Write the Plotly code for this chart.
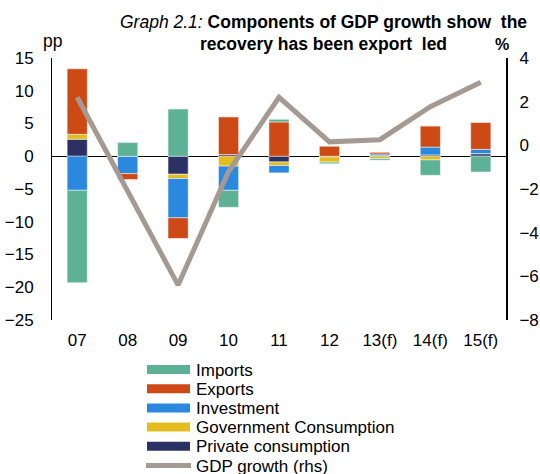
import plotly.graph_objects as go

categories = ["07", "08", "09", "10", "11", "12", "13(f)", "14(f)", "15(f)"]
private_consumption = [2.6, 0.0, -2.75, 0.26, -0.87, -0.1, 0.1, 0.2, 0.4]
government_consumption = [0.75, 0.0, -0.65, -1.5, -0.55, -0.8, -0.35, -0.56, 0.0]
investment = [-5.2, -2.65, -6.0, -3.7, -1.12, 0.0, 0.25, 1.2, 0.65]
exports = [10.0, -0.9, -3.15, 5.74, 5.24, 1.53, 0.25, 3.2, 4.1]
imports = [-14.1, 2.1, 7.2, -2.6, 0.4, -0.25, -0.25, -2.35, -2.4]
gdp_growth = [2.2, -2.1, -6.4, -1.2, 2.2, 0.16, 0.26, 1.77, 2.89]

FONT = "Liberation Sans, Arial, sans-serif"
col_imports = "#5DB195"
col_exports = "#CD4915"
col_invest = "#2A88DE"
col_gov = "#E3BD1F"
col_priv = "#2C3165"
col_gdp = "#A59A92"

W, H = 540, 474
ML, MR, MT, MB = 52, 34, 58, 154
PW, PH = W - ML - MR, H - MT - MB


def px_x(px):
    return (px - ML) / PW


def px_y(py):
    return (H - MB - py) / PH


fig = go.Figure()
edge = dict(color="rgba(255,255,255,0.5)", width=1)
series = [
    ("Private consumption", private_consumption, col_priv),
    ("Government Consumption", government_consumption, col_gov),
    ("Investment", investment, col_invest),
    ("Exports", exports, col_exports),
    ("Imports", imports, col_imports),
]
for name, vals, col in series:
    fig.add_trace(go.Bar(x=categories, y=vals, name=name, marker=dict(color=col, line=edge)))

fig.add_trace(go.Scatter(x=categories, y=gdp_growth, mode="lines", name="GDP growth (rhs)",
                         line=dict(color=col_gdp, width=5), yaxis="y2"))

# manual legend (order as in the reference)
legend_items = [("Imports", col_imports, "bar"), ("Exports", col_exports, "bar"),
                ("Investment", col_invest, "bar"), ("Government Consumption", col_gov, "bar"),
                ("Private consumption", col_priv, "bar"), ("GDP growth (rhs)", col_gdp, "line")]
shapes = []
anns = []
for i, (lab, col, kind) in enumerate(legend_items):
    yc = 369.5 + i * 19.2
    if kind == "bar":
        shapes.append(dict(type="rect", xref="paper", yref="paper",
                           x0=px_x(147), x1=px_x(190), y0=px_y(yc - 4.5), y1=px_y(yc + 4.5),
                           fillcolor=col, line=dict(width=0)))
    else:
        shapes.append(dict(type="line", xref="paper", yref="paper",
                           x0=px_x(146), x1=px_x(191), y0=px_y(yc), y1=px_y(yc),
                           line=dict(color=col, width=5)))
    anns.append(dict(text=lab, x=px_x(194), y=px_y(yc + 0.5), xref="paper", yref="paper",
                     xanchor="left", yanchor="middle", showarrow=False,
                     font=dict(size=17, family=FONT)))

anns += [
    dict(text="<i>Graph 2.1:</i> <b>Components of GDP growth show  the</b>", x=px_x(323),
         y=px_y(22), font=dict(size=17.5)),
    dict(text="<b>recovery has been export  led</b>", x=px_x(323), y=px_y(44),
         font=dict(size=17.5)),
    dict(text="pp", x=px_x(52), y=px_y(41), font=dict(size=17.5)),
    dict(text="<b>%</b>", x=px_x(502), y=px_y(45), font=dict(size=16)),
]
for a in anns[-4:]:
    a.update(xref="paper", yref="paper", xanchor="center", yanchor="middle", showarrow=False)

fig.update_layout(
    width=W, height=H,
    margin=dict(l=ML, r=MR, t=MT, b=MB, autoexpand=False),
    paper_bgcolor="white", plot_bgcolor="white",
    barmode="relative", bargap=0.6,
    font=dict(family=FONT, size=17, color="black"),
    showlegend=False,
    xaxis=dict(type="category", showline=False, ticks="", showgrid=False,
               tickfont=dict(size=17), ticklabelstandoff=8),
    yaxis=dict(range=[-25, 15], dtick=5, showgrid=False, showline=True, linecolor="black",
               linewidth=1, ticks="", zeroline=True, zerolinecolor="black", zerolinewidth=1,
               tickfont=dict(size=17), ticklabelstandoff=14),
    yaxis2=dict(range=[-8, 4], dtick=2, overlaying="y", side="right", showgrid=False,
                showline=True, linecolor="black", linewidth=2, ticks="", zeroline=False,
                tickfont=dict(size=17), ticklabelstandoff=8),
    shapes=shapes,
    annotations=anns,
)

fig.write_html("out.html", config={"displayModeBar": False},
               post_script="document.body.style.margin='0';document.body.style.overflow='hidden';")
